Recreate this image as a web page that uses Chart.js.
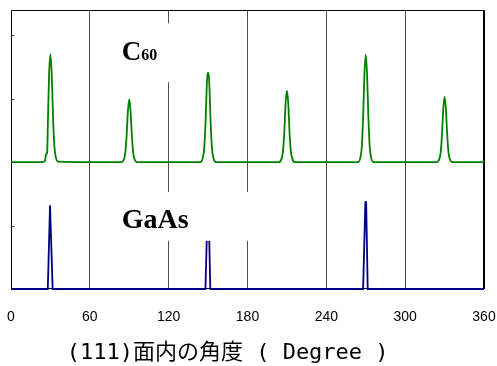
<!DOCTYPE html>
<html>
<head>
<meta charset="utf-8">
<script src="https://cdn.jsdelivr.net/npm/chart.js"></script>
<style>
  html, body { margin: 0; padding: 0; background: #fff; }
  #wrap { width: 497px; height: 366px; }
</style>
</head>
<body>
<div id="wrap"><canvas id="chart"></canvas></div>
<script>
// x axis ticks (degrees) and the inside tick marks on the left axis
const angleTicks = [0, 60, 120, 180, 240, 300, 360];
const intensityTicks = [1, 2, 3, 4];

// C60 scan, plotted with its baseline lifted to 2
const c60Angles = [0, 20, 24, 26, 26.5, 27.5, 28, 29, 30, 31, 32, 33, 34, 36,
  84, 86, 87, 88, 89, 90, 91, 92, 93, 94, 96,
  144, 146, 147, 148, 149, 149.6, 150.4, 151, 152, 153, 154, 156,
  204, 206, 207, 208, 209, 210, 211, 212, 213, 214, 216,
  264, 266, 267, 268, 269, 270, 271, 272, 273, 274, 276,
  324, 326, 327, 328, 329, 330, 331, 332, 333, 334, 336, 360];
const c60Values = [2.00, 2.00, 2.00, 2.03, 2.12, 2.15, 2.55, 3.39, 3.70, 3.39, 2.71, 2.26, 2.09, 2.01,
  2.00, 2.05, 2.15, 2.42, 2.81, 2.99, 2.81, 2.42, 2.15, 2.05, 2.00,
  2.00, 2.07, 2.21, 2.59, 3.20, 3.41, 3.41, 3.20, 2.59, 2.21, 2.07, 2.00,
  2.00, 2.06, 2.17, 2.47, 2.93, 3.13, 2.93, 2.47, 2.17, 2.06, 2.00,
  2.00, 2.08, 2.25, 2.71, 3.39, 3.69, 3.39, 2.71, 2.25, 2.08, 2.00,
  2.00, 2.05, 2.15, 2.43, 2.84, 3.03, 2.84, 2.43, 2.15, 2.05, 2.00, 2.00];

// GaAs scan
const gaasAngles = [0, 28, 29.7, 30.3, 31.7, 148, 149.7, 150.3, 151.7, 268, 269.7, 270.3, 271.5, 360];
const gaasValues = [0, 0, 1.32, 1.32, 0, 0, 1.35, 1.35, 0, 0, 1.37, 1.37, 0, 0];

const xTitle = '(111)面内の角度 ( Degree )   ';

function toPoints(xs, ys) {
  return xs.map((x, i) => ({ x: x, y: ys[i] }));
}

// frame, inner tick marks and the white name boxes
const decorPlugin = {
  id: 'decor',
  beforeDatasetsDraw(chart) {
    const { ctx, chartArea: a, scales: { y } } = chart;
    ctx.save();
    ctx.strokeStyle = '#000';
    ctx.lineWidth = 1;
    const l = Math.round(a.left) + 0.5, r = Math.round(a.right) - 0.5;
    const t = Math.round(a.top) + 0.5, b = Math.round(a.bottom) - 0.5;
    ctx.beginPath();
    ctx.moveTo(l, b); ctx.lineTo(l, t); ctx.lineTo(r, t); ctx.lineTo(r, b); ctx.lineTo(l, b);
    ctx.stroke();
    ctx.lineWidth = 2;
    ctx.beginPath();
    ctx.moveTo(r + 0.5, t - 0.5); ctx.lineTo(r + 0.5, b + 0.5);
    ctx.stroke();
    // little ticks pointing into the plot
    ctx.strokeStyle = '#444';
    ctx.lineWidth = 1;
    intensityTicks.forEach(v => {
      const py = Math.round(y.getPixelForValue(v)) + 0.5;
      ctx.beginPath();
      ctx.moveTo(l, py); ctx.lineTo(l + 3, py);
      ctx.stroke();
    });
    ctx.restore();
  },
  afterDatasetsDraw(chart) {
    const { ctx, scales: { x, y } } = chart;
    ctx.save();
    const tags = chart.options.plugins.decor.tags;
    tags.forEach(tag => {
      const x0 = x.getPixelForValue(tag.box[0]), x1 = x.getPixelForValue(tag.box[1]);
      const y0 = y.getPixelForValue(tag.box[2]), y1 = y.getPixelForValue(tag.box[3]);
      ctx.fillStyle = '#fff';
      ctx.fillRect(x0, y0, x1 - x0, y1 - y0);
      let px = x.getPixelForValue(tag.at[0]);
      const py = y.getPixelForValue(tag.at[1]);
      ctx.fillStyle = '#000';
      ctx.textBaseline = 'alphabetic';
      tag.parts.forEach(p => {
        ctx.font = 'bold ' + p.size + 'px "Liberation Serif", "Times New Roman", serif';
        ctx.fillText(p.text, px, py);
        px += ctx.measureText(p.text).width;
      });
    });
    ctx.restore();
  }
};

new Chart(document.getElementById('chart'), {
  type: 'line',
  data: {
    datasets: [{
      label: 'C60',
      data: toPoints(c60Angles, c60Values),
      borderColor: '#008000',
      borderWidth: 1.8,
      pointRadius: 0,
      cubicInterpolationMode: 'monotone',
      fill: false,
      clip: false
    }, {
      label: 'GaAs',
      data: toPoints(gaasAngles, gaasValues),
      borderColor: '#000080',
      borderWidth: 1.8,
      pointRadius: 0,
      tension: 0,
      fill: false,
      clip: false
    }]
  },
  options: {
    responsive: true,
    maintainAspectRatio: false,
    animation: false,
    layout: { padding: { left: 11, right: 13, top: 10, bottom: 0 } },
    plugins: {
      legend: { display: false },
      tooltip: { enabled: false },
      decor: {
        tags: [
          { at: [84.3, 3.61], box: [71, 128, 4.19, 3.26],
            parts: [{ text: 'C', size: 27 }, { text: '60', size: 16 }] },
          { at: [84.3, 0.96], box: [71, 187, 1.53, 0.76],
            parts: [{ text: 'GaAs', size: 28 }] }
        ]
      }
    },
    scales: {
      x: {
        type: 'linear',
        min: 0,
        max: 360,
        afterBuildTicks: scale => { scale.ticks = angleTicks.map(v => ({ value: v })); },
        afterFit: scale => { scale.height = 77; },
        ticks: {
          maxRotation: 0,
          padding: 0,
          color: '#000',
          font: { family: '"Liberation Sans", Arial, sans-serif', size: 14 }
        },
        grid: {
          drawTicks: true,
          tickLength: 20,
          tickColor: 'rgba(0,0,0,0)',
          lineWidth: 1,
          color: c => (c.tick && (c.tick.value === 0 || c.tick.value === 360)) ? 'rgba(0,0,0,0)' : '#4d4d4d'
        },
        border: { display: false },
        title: {
          display: true,
          text: xTitle,
          color: '#000',
          font: { family: '"DejaVu Sans Mono", "Noto Sans CJK JP", monospace', size: 22 },
          padding: { top: 0, bottom: 0 }
        }
      },
      y: {
        display: false,
        min: 0,
        max: 4.4
      }
    }
  },
  plugins: [decorPlugin]
});
</script>
</body>
</html>
